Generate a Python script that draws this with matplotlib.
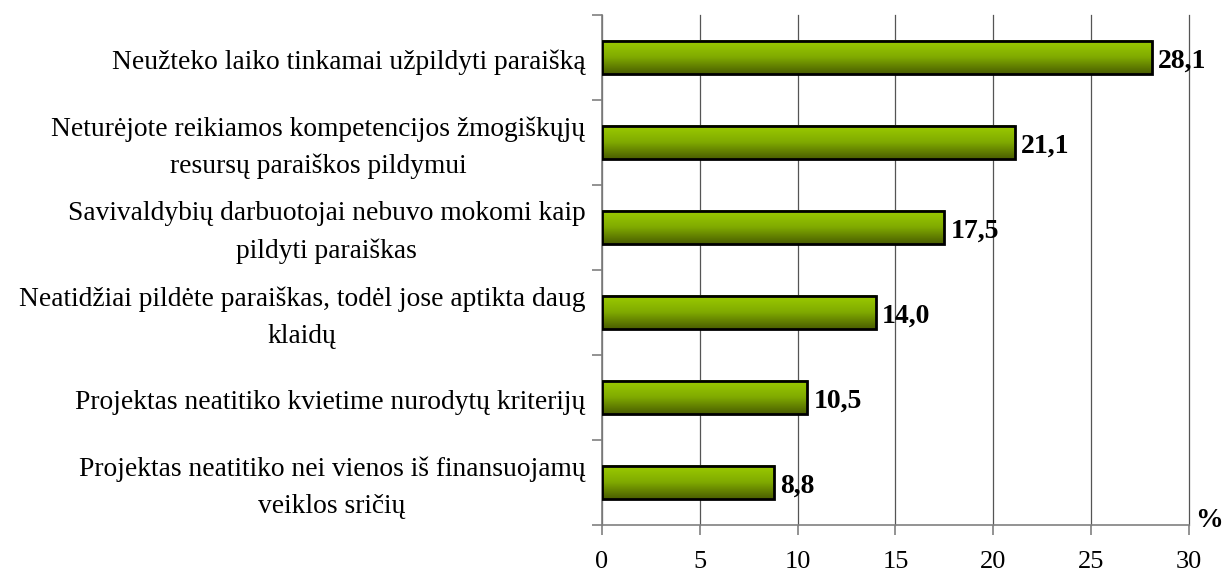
import numpy as np
import matplotlib
matplotlib.use('Agg')
import matplotlib.pyplot as plt
from matplotlib.colors import LinearSegmentedColormap

plt.rcParams['font.family'] = ['Liberation Serif', 'DejaVu Serif']

categories = ['Neužteko laiko tinkamai užpildyti paraišką',
              'Neturėjote reikiamos kompetencijos žmogiškųjų\nresursų paraiškos pildymui',
              'Savivaldybių darbuotojai nebuvo mokomi kaip\npildyti paraiškas',
              'Neatidžiai pildėte paraiškas, todėl jose aptikta daug\nklaidų',
              'Projektas neatitiko kvietime nurodytų kriterijų',
              'Projektas neatitiko nei vienos iš finansuojamų\nveiklos sričių']
values = [28.1, 21.1, 17.5, 14.0, 10.5, 8.8]
labels = ['28,1', '21,1', '17,5', '14,0', '10,5', '8,8']

fig = plt.figure(figsize=(12.27, 5.76), dpi=100)
ax = fig.add_axes([0.4906, 0.0885, 0.969 - 0.4906, 0.974 - 0.0885])

cmap = LinearSegmentedColormap.from_list('g', ['#9ccc00', '#80aa00', '#4a5e00'])
grad = np.linspace(0, 1, 100).reshape(-1, 1)

n = len(values)
ypos = np.arange(n)[::-1]
h = 0.39
for y, v, lab in zip(ypos, values, labels):
    ax.imshow(grad, cmap=cmap, aspect='auto', extent=[0, v, y - h / 2, y + h / 2],
              origin='upper', zorder=2)
    ax.barh(y, v, height=h, facecolor='none', edgecolor='black', linewidth=2, zorder=3)
    ax.text(v + 0.3, y - 0.04, lab, ha='left', va='center', fontsize=20,
            fontweight='bold', zorder=4)

ax.set_xlim(0, 30)
ax.set_ylim(-0.5, n - 0.5)
ax.set_xticks(np.arange(0, 31, 5))
ax.set_yticks(np.arange(-0.5, n, 1))
ax.set_yticklabels([])
ax.tick_params(axis='y', length=7, color='#808080', width=1.2)
ax.tick_params(axis='x', length=7, color='#808080', width=1.2, labelsize=19, pad=12)
ax.grid(axis='x', color='#555555', linewidth=0.9, zorder=0)
for gl in ax.get_xgridlines():
    gl.set_clip_on(False)
ax.set_axisbelow(True)
for s in ['top', 'right']:
    ax.spines[s].set_visible(False)
ax.spines['left'].set_color('#808080')
ax.spines['bottom'].set_color('#808080')
ax.spines['left'].set_linewidth(1.2)
ax.spines['bottom'].set_linewidth(1.2)

for y, c in zip(ypos, categories):
    ax.text(-0.85, y - 0.06, c, ha='right', va='center', multialignment='center',
            fontsize=19.8, linespacing=1.6, transform=ax.transData)

ax.text(1.01, -0.015, '%', transform=ax.transAxes, ha='left', va='bottom',
        fontsize=20, fontweight='bold')

fig.savefig('out.png', dpi=100)
